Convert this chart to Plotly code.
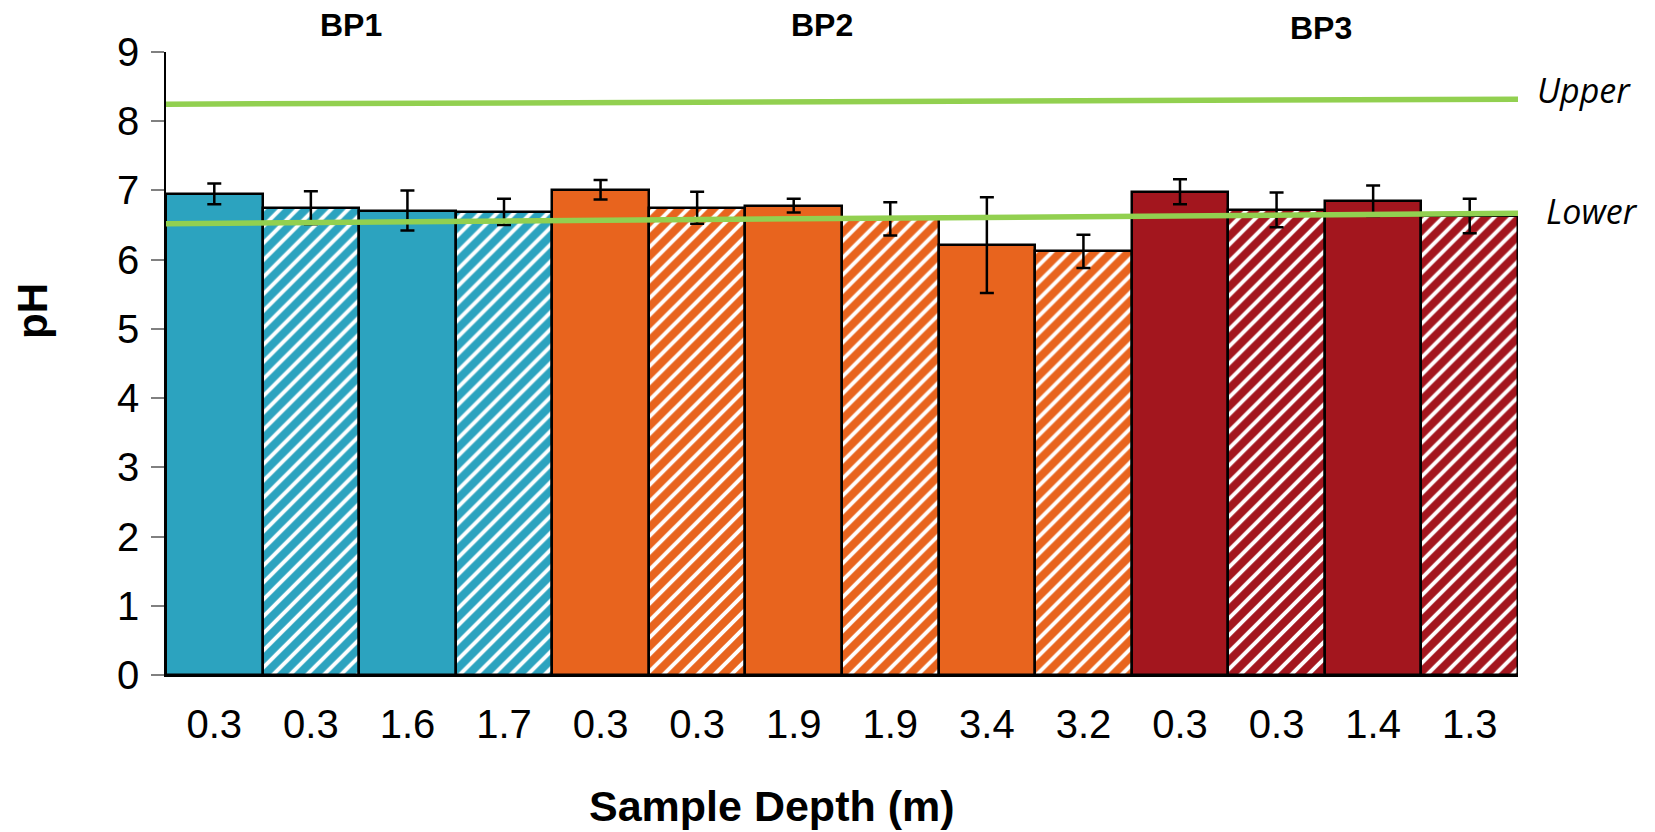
import plotly.graph_objects as go

depth_labels = ["0.3", "0.3", "1.6", "1.7", "0.3", "0.3", "1.9", "1.9", "3.4", "3.2", "0.3", "0.3", "1.4", "1.3"]
ph_values = [6.95, 6.75, 6.71, 6.69, 7.01, 6.75, 6.78, 6.59, 6.21, 6.12, 6.98, 6.72, 6.85, 6.63]
ph_errors = [0.15, 0.24, 0.29, 0.19, 0.14, 0.23, 0.10, 0.24, 0.69, 0.24, 0.18, 0.25, 0.22, 0.25]
hatched = [False, True, False, True, False, True, False, True, False, True, False, True, False, True]
group_of_bar = ["BP1"] * 4 + ["BP2"] * 6 + ["BP3"] * 4
group_colors = {"BP1": "#2CA3BF", "BP2": "#E8641E", "BP3": "#A3161E"}
group_labels = ["BP1", "BP2", "BP3"]

upper_line = [8.246, 8.318]
lower_line = [6.52, 6.67]
line_x = [-0.5, 13.5]

# figure is drawn inside the page body (8px default margin), so size it to fit the window
W, H = 1647, 824
L, R, T, B = 158, 137, 44, 157

fig = go.Figure()

x_idx = list(range(len(ph_values)))
for i in x_idx:
    col = group_colors[group_of_bar[i]]
    if hatched[i]:
        pattern = dict(shape="/", bgcolor=col, fgcolor="white", fgopacity=1, size=12, solidity=0.33)
    else:
        pattern = dict(shape="")
    fig.add_trace(go.Bar(
        x=[i], y=[ph_values[i]],
        width=1.0,
        marker=dict(color=col, line=dict(color="black", width=2.5), pattern=pattern),
        error_y=dict(type="data", array=[ph_errors[i]], color="black", thickness=2.5, width=7),
        showlegend=False, hoverinfo="skip",
    ))

for yv in (upper_line, lower_line):
    fig.add_trace(go.Scatter(x=line_x, y=yv, mode="lines",
                             line=dict(color="#92D050", width=5.5),
                             showlegend=False, hoverinfo="skip"))

fig.update_layout(
    width=W, height=H,
    margin=dict(l=L, r=R, t=T, b=B, autoexpand=False),
    plot_bgcolor="white", paper_bgcolor="white",
    barmode="overlay", bargap=0,
    font=dict(family="Liberation Sans, Arial, sans-serif", color="black", size=40),
)
fig.update_xaxes(
    range=[-0.5, 13.5], tickmode="array", tickvals=x_idx, ticktext=depth_labels,
    showline=True, linecolor="black", linewidth=2, showgrid=False, zeroline=False,
    ticks="", ticklabelstandoff=13, tickfont=dict(size=40), automargin=False,
)
fig.update_yaxes(
    range=[0, 9], tickvals=list(range(10)), showline=True, linecolor="black", linewidth=1.5,
    showgrid=False, zeroline=False, ticks="outside", ticklen=13, tickcolor="#808080",
    tickwidth=1.5, tickfont=dict(size=40), ticklabelstandoff=4, automargin=False,
)

pw = W - L - R
ph = H - T - B
def px(xp):
    return (xp - L) / pw
def py(yp):
    return (H - B - yp) / ph

group_label_pos = [(343, 17), (814, 17), (1313, 20.5)]
for lab, (gx, gy) in zip(group_labels, group_label_pos):
    fig.add_annotation(x=px(gx), y=py(gy), xref="paper", yref="paper", text="<b>" + lab + "</b>",
                       showarrow=False, font=dict(size=32), xanchor="center", yanchor="middle")

fig.add_annotation(x=px(1576), y=py(82), xref="paper", yref="paper", text="<i>Upper</i>",
                   showarrow=False, font=dict(family="Open Sans", size=34),
                   xanchor="center", yanchor="middle")
fig.add_annotation(x=px(1584), y=py(203), xref="paper", yref="paper", text="<i>Lower</i>",
                   showarrow=False, font=dict(family="Open Sans", size=34),
                   xanchor="center", yanchor="middle")
fig.add_annotation(x=px(24), y=py(303), xref="paper", yref="paper", text="<b>pH</b>",
                   showarrow=False, font=dict(size=42), textangle=-90,
                   xanchor="center", yanchor="middle")
fig.add_annotation(x=px(764), y=py(798), xref="paper", yref="paper", text="<b>Sample Depth (m)</b>",
                   showarrow=False, font=dict(size=43),
                   xanchor="center", yanchor="middle")

fig.write_html("out.html")
